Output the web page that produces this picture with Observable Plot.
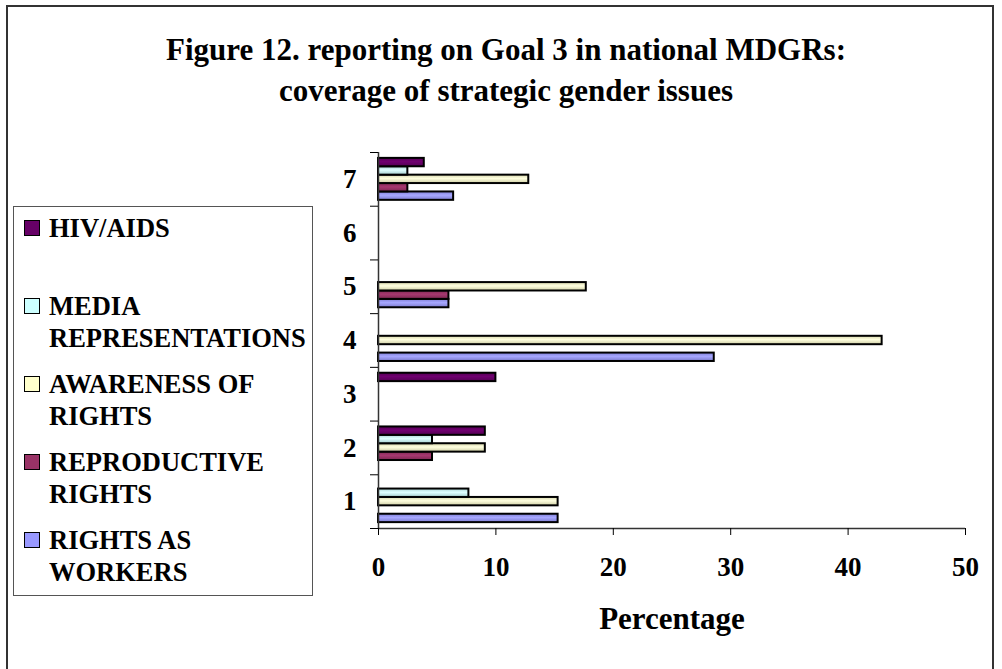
<!DOCTYPE html>
<html>
<head>
<meta charset="utf-8">
<script src="https://cdn.jsdelivr.net/npm/d3@7"></script>
<script src="https://cdn.jsdelivr.net/npm/@observablehq/plot@0.6"></script>
<style>
  html, body { margin: 0; padding: 0; background: #fff; overflow: hidden; }
  #wrap { position: relative; width: 1002px; height: 669px; font-family: "Liberation Serif", "Times New Roman", serif; font-weight: bold; color: #000; }
  #frame { position: absolute; left: 6px; top: 5px; width: 984px; height: 720px; border: 2px solid #333; box-sizing: content-box; }
  #title { position: absolute; left: 0; top: 29px; width: 1012px; text-align: center; font-size: 31px; line-height: 41px; }
  #legend { position: absolute; left: 13px; top: 206px; width: 298px; height: 388px; border: 1px solid #555; }
  .item { position: absolute; left: 0; width: 298px; }
  .sw { position: absolute; left: 10px; top: 8px; width: 14px; height: 14px; border: 1.5px solid #000; }
  .lab { position: absolute; left: 35px; top: 0; font-size: 26.5px; line-height: 32px; white-space: nowrap; }
  #chart { position: absolute; left: 0; top: 0; }
</style>
</head>
<body>
<div id="wrap">
  <div id="frame"></div>
  <div id="title">Figure 12. reporting on Goal 3 in national MDGRs:<br>coverage of strategic gender issues</div>
  <div id="chart"></div>
  <div id="legend"></div>
</div>
<script>
// ---- data ----
const categories = ["1", "2", "3", "4", "5", "6", "7"];
const series = ["RIGHTS AS WORKERS", "REPRODUCTIVE RIGHTS", "AWARENESS OF RIGHTS", "MEDIA REPRESENTATIONS", "HIV/AIDS"];
const colors = ["#9999FF", "#993366", "#FFFFCC", "#CCFFFF", "#660066"];
const workers      = [15.3, 0,   0,    28.6, 6.0,  0, 6.4];
const reproductive = [0,    4.6, 0,    0,    6.0,  0, 2.5];
const awareness    = [15.3, 9.1, 0,    42.9, 17.7, 0, 12.8];
const media        = [7.7,  4.6, 0,    0,    0,    0, 2.5];
const hiv          = [0,    9.1, 10.0, 0,    0,    0, 3.9];
const xTicks = [0, 10, 20, 30, 40, 50];
const legendOrder = ["HIV/AIDS", "MEDIA REPRESENTATIONS", "AWARENESS OF RIGHTS", "REPRODUCTIVE RIGHTS", "RIGHTS AS WORKERS"];
const legendLines = [["HIV/AIDS"], ["MEDIA", "REPRESENTATIONS"], ["AWARENESS OF", "RIGHTS"], ["REPRODUCTIVE", "RIGHTS"], ["RIGHTS AS", "WORKERS"]];

const values = [workers, reproductive, awareness, media, hiv];
const nSeries = series.length;
const padOuter = 0.7;
const steps = nSeries + 2 * padOuter;

const rows = [];
categories.forEach((c, i) => {
  values.forEach((arr, s) => {
    if (arr[i] > 0) {
      rows.push({
        category: c,
        series: series[s],
        value: arr[i],
        y1: i + (padOuter + s) / steps,
        y2: i + (padOuter + s + 1) / steps,
        grad: `url(#grad${s})`
      });
    }
  });
});

const chart = Plot.plot({
  width: 1002,
  height: 669,
  marginLeft: 378,
  marginRight: 37,
  marginTop: 152,
  marginBottom: 141,
  x: { domain: [0, 50] },
  y: { domain: [0, categories.length] },
  color: { type: "identity" },
  style: {
    fontFamily: "'Liberation Serif', 'Times New Roman', serif",
    fontWeight: "bold",
    fontSize: "27px",
    color: "#000",
    background: "transparent",
    overflow: "visible"
  },
  marks: [
    Plot.rect(rows, { x1: () => 0, x2: "value", y1: "y1", y2: "y2", fill: "grad", stroke: "#000", strokeWidth: 2 }),
    Plot.ruleX([0], { stroke: "#333", strokeWidth: 1.5 }),
    Plot.ruleY([0], { stroke: "#333", strokeWidth: 1.5 }),
    Plot.axisX({ ticks: xTicks, tickSize: 7, tickPadding: 21, fontSize: 27, label: "Percentage", labelArrow: "none", labelAnchor: "center", labelOffset: 100 }),
    Plot.axisY({ ticks: d3.range(0, categories.length + 1), tickSize: 8, tickFormat: () => "", label: null }),
    Plot.axisY({ ticks: categories.map((c, i) => i + 0.5), tickFormat: d => categories[Math.floor(d)], tickSize: 0, tickPadding: 22, fontSize: 27, label: null })
  ]
});

// gradients for the 3D-ish bar shading
const svg = d3.select(chart);
const defs = svg.insert("defs", ":first-child");
colors.forEach((col, s) => {
  const g = defs.append("linearGradient").attr("id", `grad${s}`).attr("x1", 0).attr("y1", 0).attr("x2", 0).attr("y2", 1);
  const base = d3.color(col);
  g.append("stop").attr("offset", "0%").attr("stop-color", base.darker(0.5).formatHex());
  g.append("stop").attr("offset", "45%").attr("stop-color", base.brighter(0.25).formatHex());
  g.append("stop").attr("offset", "100%").attr("stop-color", base.darker(0.6).formatHex());
});
// larger axis title, as in the reference
svg.selectAll('g[aria-label="x-axis label"]').attr("font-size", 31);
svg.selectAll('g[aria-label="x-axis label"] text').text("Percentage");
document.getElementById("chart").appendChild(chart);

// legend
const legend = d3.select("#legend");
legendOrder.forEach((name, k) => {
  const s = series.indexOf(name);
  const item = legend.append("div").attr("class", "item").style("top", `${5 + k * 78}px`);
  item.append("div").attr("class", "sw").style("background", colors[s]);
  item.append("div").attr("class", "lab").html(legendLines[k].join("<br>"));
});
</script>
</body>
</html>
